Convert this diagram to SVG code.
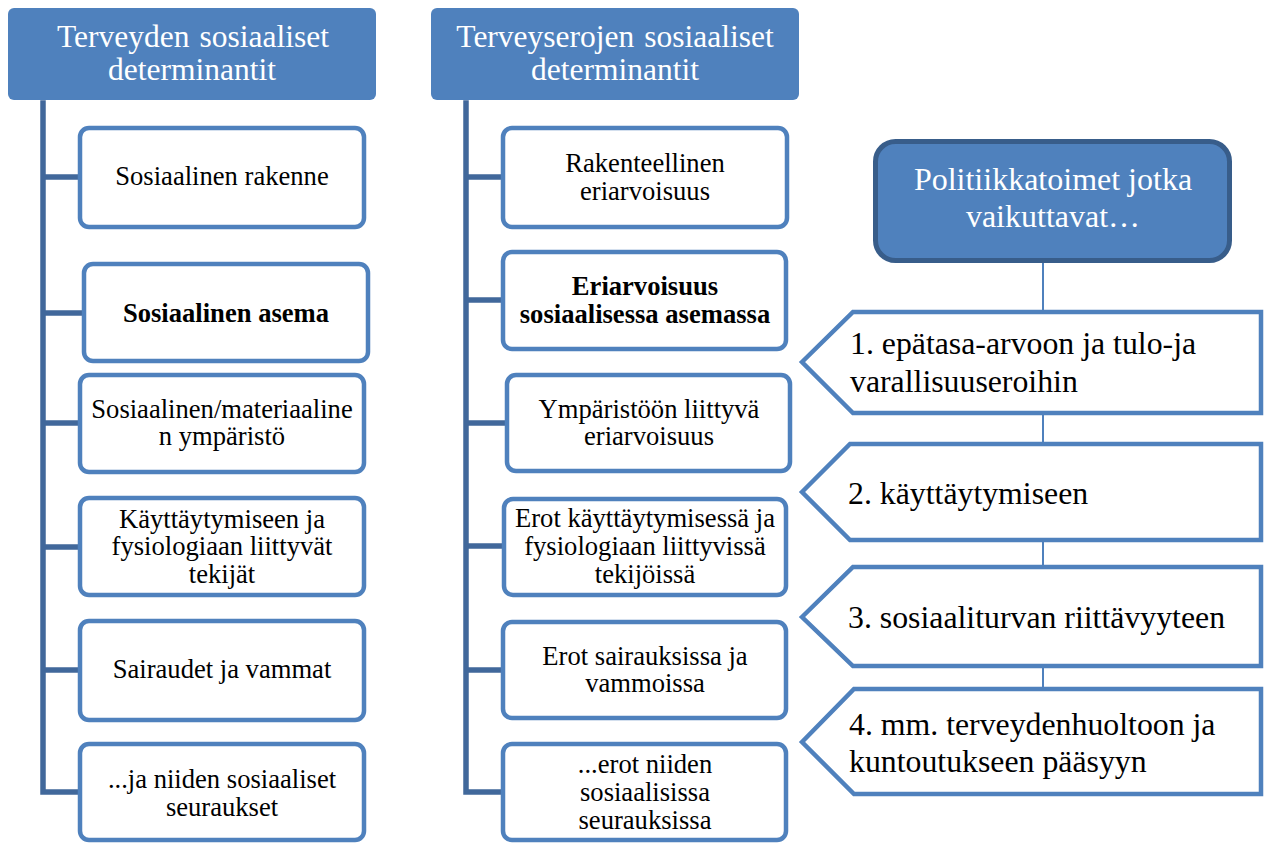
<svg xmlns="http://www.w3.org/2000/svg" width="1270" height="843" viewBox="0 0 1270 843">
<style>
.title{fill:#4F81BD;}
.node{fill:#FFFFFF;stroke:#4F81BD;stroke-width:4.5;}
.pent{fill:#FFFFFF;stroke:#4F81BD;stroke-width:4.5;stroke-linejoin:miter;}
.policy{fill:#4F81BD;stroke:#385D8A;stroke-width:5;}
.trunk{stroke:#41689B;stroke-width:5.5;fill:none;stroke-linecap:square;}
.thin{stroke:#4F81BD;stroke-width:2;fill:none;}
text{font-family:'Liberation Serif','Times New Roman',serif;}
.tt{font-size:31.5px;fill:#FFFFFF;text-anchor:middle;word-spacing:2px;}
.pol{font-size:32px;fill:#FFFFFF;text-anchor:middle;}
.nt{font-size:26.6px;fill:#000000;text-anchor:middle;}
.b{font-weight:bold;}
.pt{font-size:31.8px;fill:#000000;}
</style>
<rect width="1270" height="843" fill="#FFFFFF"/>
<g id="connectors">
<path class="trunk" d="M43,103 V792 M43,177 H80 M43,313 H84 M43,423 H80 M43,547 H80 M43,670 H80 M43,792 H80"/>
<path class="trunk" d="M466,103 V792 M466,177 H503 M466,300 H503 M466,423 H507 M466,546 H504 M466,670 H503 M466,792 H503"/>
<line class="thin" x1="1043" y1="263" x2="1043" y2="690"/>
</g>
<g id="title-left">
<rect class="title" x="8" y="8" width="368" height="92" rx="6"/>
<text class="tt" x="193" y="47">Terveyden sosiaaliset</text>
<text class="tt" x="192" y="80">determinantit</text>
</g>
<g id="title-mid">
<rect class="title" x="431" y="8" width="368" height="92" rx="6"/>
<text class="tt" x="615" y="47">Terveyserojen sosiaaliset</text>
<text class="tt" x="615" y="80">determinantit</text>
</g>
<g id="l1"><rect class="node" x="80" y="128" width="284" height="99" rx="9"/><text class="nt" x="222" y="185">Sosiaalinen rakenne</text></g>
<g id="l2"><rect class="node" x="84" y="264" width="284" height="97" rx="9"/><text class="nt b" x="226" y="322">Sosiaalinen asema</text></g>
<g id="l3"><rect class="node" x="80" y="375" width="284" height="97" rx="9"/><text class="nt" x="222" y="418">Sosiaalinen/materiaaline</text><text class="nt" x="222" y="445">n ympäristö</text></g>
<g id="l4"><rect class="node" x="80" y="498" width="284" height="97" rx="9"/><text class="nt" x="222" y="528">Käyttäytymiseen ja</text><text class="nt" x="222" y="555">fysiologiaan liittyvät</text><text class="nt" x="222" y="583">tekijät</text></g>
<g id="l5"><rect class="node" x="80" y="621" width="284" height="99" rx="9"/><text class="nt" x="222" y="678">Sairaudet ja vammat</text></g>
<g id="l6"><rect class="node" x="80" y="744" width="284" height="96" rx="9"/><text class="nt" x="222" y="788">...ja niiden sosiaaliset</text><text class="nt" x="222" y="816">seuraukset</text></g>
<g id="m1"><rect class="node" x="503" y="128" width="284" height="99" rx="9"/><text class="nt" x="645" y="172">Rakenteellinen</text><text class="nt" x="645" y="200">eriarvoisuus</text></g>
<g id="m2"><rect class="node" x="503" y="252" width="283" height="97" rx="9"/><text class="nt b" x="645" y="295">Eriarvoisuus</text><text class="nt b" x="645" y="323">sosiaalisessa asemassa</text></g>
<g id="m3"><rect class="node" x="507" y="375" width="283" height="96" rx="9"/><text class="nt" x="649" y="418">Ympäristöön liittyvä</text><text class="nt" x="649" y="445">eriarvoisuus</text></g>
<g id="m4"><rect class="node" x="504" y="499" width="282" height="96" rx="9"/><text class="nt" x="645" y="527">Erot käyttäytymisessä ja</text><text class="nt" x="645" y="555">fysiologiaan liittyvissä</text><text class="nt" x="645" y="583">tekijöissä</text></g>
<g id="m5"><rect class="node" x="503" y="622" width="283" height="96" rx="9"/><text class="nt" x="645" y="665">Erot sairauksissa ja</text><text class="nt" x="645" y="692">vammoissa</text></g>
<g id="m6"><rect class="node" x="503" y="744" width="283" height="96" rx="9"/><text class="nt" x="645" y="773">...erot niiden</text><text class="nt" x="645" y="801">sosiaalisissa</text><text class="nt" x="645" y="829">seurauksissa</text></g>
<g id="policy">
<rect class="policy" x="875.5" y="141.5" width="354" height="119" rx="20"/>
<text class="pol" x="1053" y="190">Politiikkatoimet jotka</text>
<text class="pol" x="1053" y="227">vaikuttavat…</text>
</g>
<g id="p1"><path class="pent" d="M802,362 L853,312 H1261 V413 H853 Z"/><text class="pt" x="850" y="354">1. epätasa-arvoon ja tulo-ja</text><text class="pt" x="850" y="392">varallisuuseroihin</text></g>
<g id="p2"><path class="pent" d="M802,492 L850,444 H1261 V540 H850 Z"/><text class="pt" x="848" y="504">2. käyttäytymiseen</text></g>
<g id="p3"><path class="pent" d="M802,617 L853,567 H1261 V666 H853 Z"/><text class="pt" x="848" y="628">3. sosiaaliturvan riittävyyteen</text></g>
<g id="p4"><path class="pent" d="M802,742 L854,689 H1261 V794 H854 Z"/><text class="pt" x="849" y="735">4. mm. terveydenhuoltoon ja</text><text class="pt" x="849" y="772">kuntoutukseen pääsyyn</text></g>
</svg>
